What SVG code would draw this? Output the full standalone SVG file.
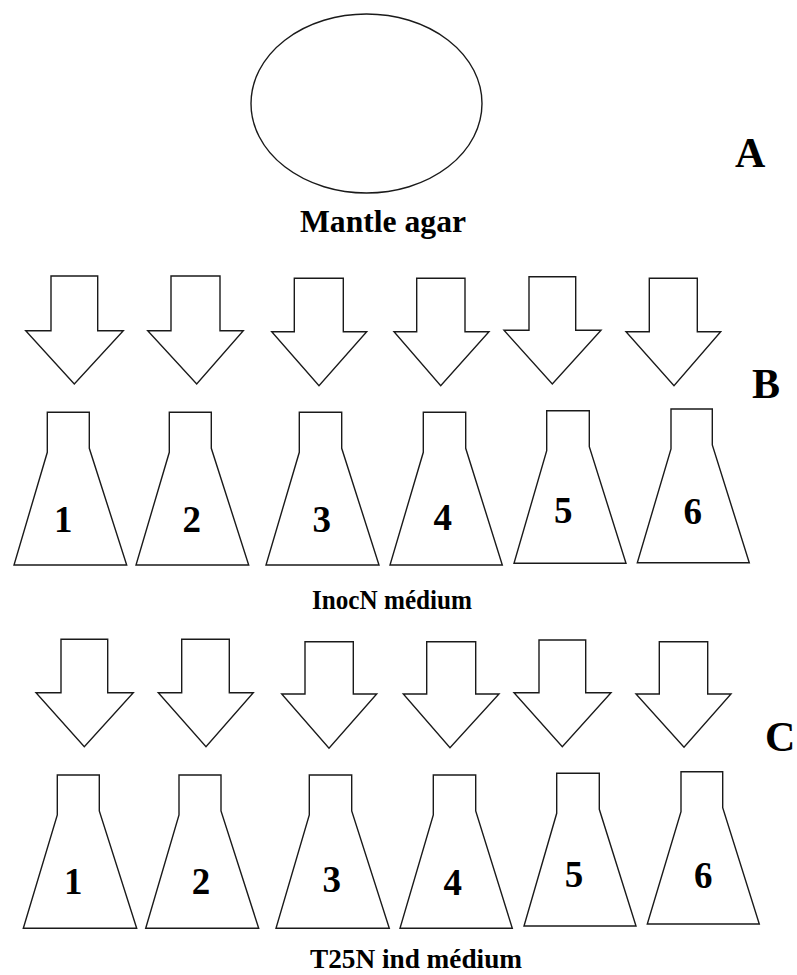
<svg xmlns="http://www.w3.org/2000/svg" width="797" height="975" viewBox="0 0 797 975">
  <style>
    .shape { fill: #ffffff; stroke: #1a1a1a; stroke-width: 1.4; stroke-linejoin: miter; }
    .lbl { font-family: "Liberation Serif", "Times New Roman", serif; font-weight: bold; fill: #000000; }
    .num { font-size: 37px; text-anchor: middle; }
    .step { font-size: 42px; }
  </style>
  <rect width="797" height="975" fill="#ffffff"/>

  <!-- Stage A: agar plate -->
  <g id="mantle-agar">
    <ellipse class="shape" cx="366.5" cy="103.5" rx="115.5" ry="89.5"/>
    <text class="lbl" font-size="31" x="300" y="232" textLength="166" lengthAdjust="spacingAndGlyphs">Mantle agar</text>
  </g>
  <g id="label-A"><text class="lbl step" x="735" y="167">A</text></g>
  <g id="label-B"><text class="lbl step" x="752" y="398">B</text></g>
  <g id="label-C"><text class="lbl step" x="765" y="751">C</text></g>

  <!-- Block arrows between stages -->
  <g id="connectors">
    <polygon class="shape" points="51,276 97.7,276 97.7,330.7 123.3,330.7 74.3,384 25.7,330.7 51,330.7"/>
    <polygon class="shape" points="171,276 220,276 220,330.7 243.3,330.7 196.7,384 147.7,330.7 171,330.7"/>
    <polygon class="shape" points="294.3,278.3 343.3,278.3 343.3,331.7 366.7,331.7 319,385.7 271.7,331.7 294.3,331.7"/>
    <polygon class="shape" points="416.7,278.3 465,278.3 465,331.7 489,331.7 440.7,385.7 394,331.7 416.7,331.7"/>
    <polygon class="shape" points="529,276.7 575.7,276.7 575.7,330.3 601,330.3 552.3,384 504,330.3 529,330.3"/>
    <polygon class="shape" points="649.3,278.3 697.3,278.3 697.3,331.7 720.7,331.7 674,385.7 626,331.7 649.3,331.7"/>

    <polygon class="shape" points="61,639.3 107.7,639.3 107.7,692.7 133.3,692.7 84.3,746.7 36,692.7 61,692.7"/>
    <polygon class="shape" points="181.7,639.3 229.3,639.3 229.3,692.7 253.3,692.7 206,746.7 158.3,692.7 181.7,692.7"/>
    <polygon class="shape" points="305,641.7 353.3,641.7 353.3,694 376.7,694 329,748.3 281.7,694 305,694"/>
    <polygon class="shape" points="426.7,641.7 475.7,641.7 475.7,694 499,694 450,747.7 403.3,694 426.7,694"/>
    <polygon class="shape" points="539,640 585.7,640 585.7,692.7 611,692.7 562.3,746.7 514,692.7 539,692.7"/>
    <polygon class="shape" points="659.3,641.7 707.7,641.7 707.7,694 731,694 684,747.3 636,694 659.3,694"/>
  </g>

  <!-- Stage B flasks -->
  <g id="flask-B1">
    <path class="shape" d="M47.3,452.3 V412.3 H89.3 V448.3 L126.7,565 H14 Z"/>
    <text class="lbl num" x="63.3" y="531.7">1</text>
  </g>
  <g id="flask-B2">
    <path class="shape" d="M169.3,452.3 V412.3 H211.3 V448.3 L248.7,565 H136 Z"/>
    <text class="lbl num" x="191.7" y="531.7">2</text>
  </g>
  <g id="flask-B3">
    <path class="shape" d="M299.3,452.3 V412.3 H341.7 V448.3 L379,565 H266 Z"/>
    <text class="lbl num" x="321.7" y="531.7">3</text>
  </g>
  <g id="flask-B4">
    <path class="shape" d="M423.3,452.3 V412.3 H465.7 V448.3 L502.3,565 H390 Z"/>
    <text class="lbl num" x="442.7" y="530">4</text>
  </g>
  <g id="flask-B5">
    <path class="shape" d="M546.7,450.7 V410.7 H589.3 V446.7 L626,563.3 H514 Z"/>
    <text class="lbl num" x="563.3" y="523.3">5</text>
  </g>
  <g id="flask-B6">
    <path class="shape" d="M671,449 V409 H712.3 V445 L749.3,562.7 H637.3 Z"/>
    <text class="lbl num" x="692.7" y="524.3">6</text>
  </g>
  <g id="caption-B">
    <text class="lbl" font-size="27" x="312" y="609" textLength="160" lengthAdjust="spacingAndGlyphs">InocN médium</text>
  </g>

  <!-- Stage C flasks -->
  <g id="flask-C1">
    <path class="shape" d="M57.3,815 V775 H99.3 V811 L136.7,928.3 H23.3 Z"/>
    <text class="lbl num" x="73.3" y="894">1</text>
  </g>
  <g id="flask-C2">
    <path class="shape" d="M179,815 V775 H221 V811 L258.7,928.3 H145.7 Z"/>
    <text class="lbl num" x="201" y="894">2</text>
  </g>
  <g id="flask-C3">
    <path class="shape" d="M309.3,815 V775 H351.7 V811 L389.3,928.3 H276 Z"/>
    <text class="lbl num" x="331.7" y="891.7">3</text>
  </g>
  <g id="flask-C4">
    <path class="shape" d="M433.3,815 V775 H475.7 V811 L512.3,928.3 H400 Z"/>
    <text class="lbl num" x="452.7" y="895">4</text>
  </g>
  <g id="flask-C5">
    <path class="shape" d="M556.7,813.3 V773.3 H599.3 V809.3 L636,926 H524 Z"/>
    <text class="lbl num" x="574" y="886.7">5</text>
  </g>
  <g id="flask-C6">
    <path class="shape" d="M681,811.7 V771.7 H722.7 V807.7 L759.3,924 H647.3 Z"/>
    <text class="lbl num" x="703.3" y="887.7">6</text>
  </g>
  <g id="caption-C">
    <text class="lbl" font-size="27" x="310" y="968" textLength="212" lengthAdjust="spacingAndGlyphs">T25N ind médium</text>
  </g>
</svg>
